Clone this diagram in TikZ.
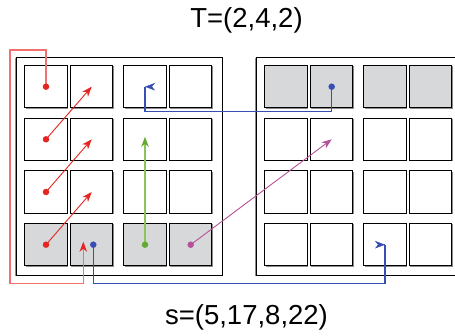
\documentclass[tikz,border=0pt]{standalone}
\usepackage{fontspec}
\setmainfont{Liberation Sans}
\usetikzlibrary{arrows.meta,shadows}

\definecolor{cellgray}{RGB}{215,216,218}
\definecolor{dotred}{RGB}{229,37,33}
\definecolor{loopred}{RGB}{242,112,112}
\definecolor{pathblue}{RGB}{55,78,178}
\definecolor{linegreen}{RGB}{140,195,90}
\definecolor{dotgreen}{RGB}{100,170,50}
\definecolor{pathmagenta}{RGB}{181,81,155}

\begin{document}
\begin{tikzpicture}[
  x=1pt, y=-1pt,
  font=\fontsize{27.5}{30}\selectfont,
  cell/.style={draw, line width=1pt, minimum size=42.4pt, inner sep=0pt, fill=white,
    drop shadow={shadow xshift=0.9pt, shadow yshift=-0.9pt, fill=black!45, opacity=1}},
  frame/.style={draw, line width=1pt, minimum width=205.7pt, minimum height=217.7pt, inner sep=0pt, fill=white,
    drop shadow={shadow xshift=-1.2pt, shadow yshift=0pt, fill=black!45, opacity=1}},
  dot/.style={circle, inner sep=0pt, minimum size=6.5pt},
  tip/.style={-{Stealth[length=10pt, width=7.5pt, inset=3pt]}},
  heading/.style={inner sep=0pt}
]
\path[use as bounding box, clip] (0,0) rectangle (455,335);

% the two blocks
\node[frame] (left) at (119.35,166.65) {};
\node[frame] (right) at (359.35,166.65) {};

% 4x4 cells in each block, shaded rows
\foreach \r/\y in {1/86.7,2/139.3,3/192,4/244.7}
  \foreach \c/\x in {1/46,2/91.7,3/145,4/190.7} {
    \ifnum\r=4 \def\lfill{cellgray}\else\def\lfill{white}\fi
    \ifnum\r=1 \def\rfill{cellgray}\else\def\rfill{white}\fi
    \node[cell, fill=\lfill] (L\r\c) at (\x,\y) {};
    \node[cell, fill=\rfill] (R\r\c) at ({\x+240},\y) {};
  }

\coordinate (rail) at (0,283.3);
\coordinate (redtip) at ([xshift=-8.4pt, yshift=3pt]L42.center);

% red moves
\draw[tip, dotred, line width=0.9pt] (L21.center) -- (L12.center);
\draw[tip, dotred, line width=0.9pt] (L31.center) -- (L22.center);
\draw[tip, dotred, line width=0.9pt] (L41.center) -- (L32.center);
\draw[-{Stealth[length=10pt, width=7.5pt, inset=3pt, color=dotred]}, loopred, line width=1.3pt]
  (L11.center) |- (10,50) |- (redtip |- rail) -- (redtip);

% green and magenta moves
\draw[-{Stealth[length=10pt, width=7.5pt, inset=3pt, color=dotgreen]}, linegreen, line width=1.3pt]
  (L43.center) -- ([yshift=2.5pt]L23.center);
\draw[tip, pathmagenta, line width=0.9pt] (L44.center) -- (R22.center);

% blue moves, tips turned sideways at the corner
\draw[pathblue, line width=1.3pt] (R12.center) -- ++(0,25) -| (L13.center);
\draw[tip, pathblue, line width=0.5pt] ([xshift=0.5pt]L13.center) -- (L13.center);
\draw[pathblue, line width=1.3pt] ([xshift=1.6pt]L42.center) |- (R43.center |- rail) -- (R43.center);
\draw[tip, pathblue, line width=0.5pt] ([xshift=-0.5pt]R43.center) -- (R43.center);

% dots
\foreach \n in {L11,L21,L31,L41}
  \node[dot, fill=dotred] (d\n) at (\n) {};
\node[dot, fill=pathblue] (dL42) at ([xshift=1.6pt]L42.center) {};
\node[dot, fill=dotgreen] (dL43) at (L43) {};
\node[dot, fill=pathmagenta] (dL44) at (L44) {};
\node[dot, fill=pathblue] (dR12) at (R12) {};

% labels
\node[heading] (title) at (246.5,20) {T=(2,4,2)};
\node[heading] (sizes) at (246.5,317.5) {s=(5,17,8,22)};
\end{tikzpicture}
\end{document}
